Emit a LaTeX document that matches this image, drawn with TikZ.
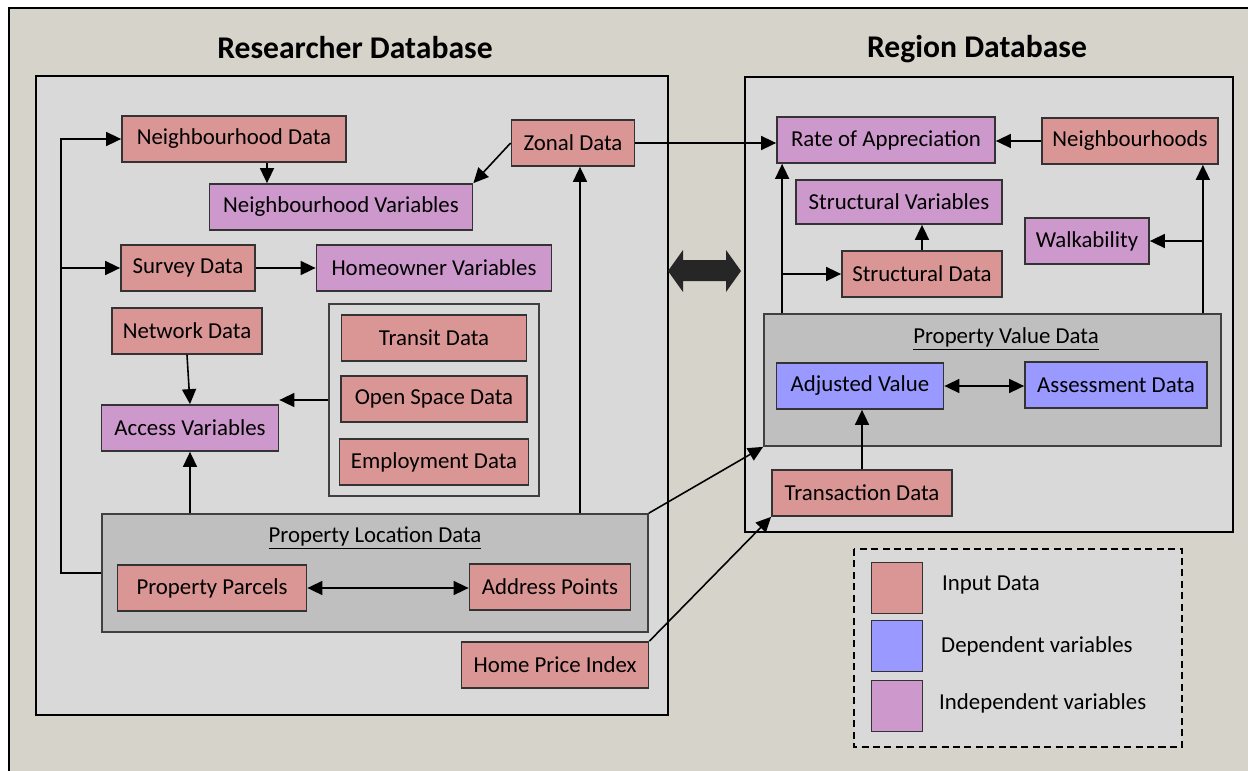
\documentclass[tikz,border=0pt]{standalone}
\usepackage{fontspec}
\setmainfont{Carlito}
\usetikzlibrary{arrows.meta}

\definecolor{inred}{HTML}{DA9694}
\definecolor{depblue}{HTML}{9999FF}
\definecolor{indvio}{HTML}{CD98CC}
\definecolor{grpgray}{HTML}{BFBFBF}
\definecolor{dbgray}{HTML}{D9D9D9}
\definecolor{pagebg}{HTML}{D6D3CB}

\tikzset{
  box/.style={draw=black!80, line width=1pt, minimum height=0.92cm, inner sep=0pt,
    font=\fontsize{13}{15}\selectfont},
  input/.style={box, fill=inred},
  dep/.style={box, fill=depblue},
  indep/.style={box, fill=indvio},
  wd/.style={minimum width=#1*0.02cm},
  ht/.style={minimum height=#1*0.02cm},
  grp/.style={draw=black!75, line width=1pt, fill=grpgray, inner sep=0pt},
  arr/.style={-{Triangle[length=0.3cm,width=0.28cm]}, line width=0.9pt},
  dbl/.style={{Triangle[length=0.3cm,width=0.28cm]}-{Triangle[length=0.3cm,width=0.28cm]}, line width=0.9pt},
  dbtitle/.style={font=\bfseries\fontsize{18}{22}\selectfont},
  grptitle/.style={font=\fontsize{13}{15}\selectfont},
}

\begin{document}
\begin{tikzpicture}[x=0.02cm, y=-0.02cm]
\useasboundingbox (0,0) rectangle (1248,771);

%% Page background and the two databases
\fill[white] (0,0) rectangle (1248,771);
\draw[fill=pagebg, line width=1.1pt] (9,8) rectangle (1260,790);
\draw[fill=dbgray, line width=1pt] (36,76) rectangle (668,715);
\draw[fill=dbgray, line width=1pt] (745,77) rectangle (1233,532);

\node[dbtitle] (restitle) at (355,48) {Researcher Database};
\node[dbtitle] (regtitle) at (977,49) {Region Database};

%% Exchange between the databases
\fill[black!85] (668,271) -- (683,250) -- (683,260) -- (726,260) -- (726,250)
  -- (741,271) -- (726,292) -- (726,281) -- (683,281) -- (683,292) -- cycle;

%% ---------------- Researcher side ----------------
\node[grp, wd=546, ht=118] (locgrp) at (375,573) {};
\node[grptitle] (loctitle) at (375,538) {\underline{Property Location Data}};
\node[input, wd=189] (parcels) at (212,588) {Property Parcels};
\node[input, wd=161] (address) at (550,587) {Address Points};

\node[draw=black!75, line width=1pt, fill=dbgray, wd=210, ht=192] (accgrp) at (434,400) {};
\node[input, wd=185] (transit) at (434,338) {Transit Data};
\node[input, wd=186] (openspace) at (434,399) {Open Space Data};
\node[input, wd=189] (employ) at (434,462) {Employment Data};

\node[input, wd=224] (ndata) at (234,139) {Neighbourhood Data};
\node[indep, wd=263] (nvar) at (341,207) {Neighbourhood Variables};
\node[input, wd=123] (zonal) at (573,143) {Zonal Data};
\node[input, wd=134] (survey) at (188,268) {Survey Data};
\node[indep, wd=235] (homevar) at (434,268) {Homeowner Variables};
\node[input, wd=150] (network) at (187,331) {Network Data};
\node[indep, wd=177] (access) at (190,428) {Access Variables};
\node[input, wd=187] (hpi) at (555,665) {Home Price Index};

%% feeds from the location data
\coordinate (lbus) at (62,268);
\draw[arr] (locgrp.west) -- ++(-40,0) |- (ndata.west);
\draw[arr] (lbus) -- (survey.west);
\draw[arr] (access.south |- locgrp.north) -- (access.south);
\draw[arr] ([xshift=0.14cm]zonal.south |- locgrp.north) -- ([xshift=0.14cm]zonal.south);

\draw[arr] ([xshift=0.66cm]ndata.south) -- ([xshift=0.66cm]ndata.south |- nvar.north);
\draw[arr] (zonal.west) -- (nvar.north east);
\draw[arr] (survey.east) -- (homevar.west);
\draw[arr] (network.south) -- (access.north);
\draw[arr] (accgrp.west) -- (accgrp.west -| access.east);
\draw[dbl] (parcels.east) -- (parcels.east -| address.west);

%% ---------------- Region side ----------------
\node[grp, wd=457, ht=132] (valgrp) at (992.5,380) {};
\node[grptitle] (valtitle) at (1006,339) {\underline{Property Value Data}};
\node[dep, wd=167] (adjusted) at (860,386) {Adjusted Value};
\node[dep, wd=182] (assess) at (1116,385) {Assessment Data};

\node[indep, wd=218] (rate) at (886,140) {Rate of Appreciation};
\node[input, wd=176] (nbhds) at (1130,141) {Neighbourhoods};
\node[indep, wd=206, ht=44] (structvar) at (899,202) {Structural Variables};
\node[indep, wd=124] (walk) at (1087,241) {Walkability};
\node[input, wd=160] (structdata) at (922,274) {Structural Data};
\node[input, wd=180] (trans) at (862,493) {Transaction Data};

\draw[arr] (zonal.east) -- (zonal.east -| rate.west);
\draw[arr] (nbhds.west) -- (nbhds.west -| rate.east);
\draw[arr] ([xshift=0.12cm]rate.south west |- valgrp.north) -- ([xshift=0.12cm]rate.south west);
\draw[arr] ([xshift=0.12cm]rate.south west |- structdata.west) -- (structdata.west);
\draw[arr] (structdata.north) -- (structdata.north |- structvar.south);
\draw[arr] ([xshift=-0.32cm]nbhds.south east |- valgrp.north) -- ([xshift=-0.32cm]nbhds.south east);
\draw[arr] ([xshift=-0.32cm]nbhds.south east |- walk.east) -- (walk.east);
\draw[dbl] (adjusted.east) -- (adjusted.east -| assess.west);
\draw[arr] (trans.north) -- (trans.north |- adjusted.south);

%% links across
\draw[arr] (locgrp.north east) -- (valgrp.south west);
\draw[arr] (hpi.north east) -- (trans.south west);

%% ---------------- Legend ----------------
\draw[dash pattern=on 4pt off 2.5pt, line width=1pt, fill=dbgray] (854,549) rectangle (1182,747);
\node[box, fill=inred, minimum size=1.02cm] (keyin) at (897,588) {};
\node[box, fill=depblue, minimum size=1.02cm] (keydep) at (897,646) {};
\node[box, fill=indvio, minimum size=1.02cm] (keyind) at (897,706) {};
\node[grptitle, anchor=west] (keyintxt) at (936,585) {Input Data};
\node[grptitle, anchor=west] (keydeptxt) at (935,646) {Dependent variables};
\node[grptitle, anchor=west] (keyindtxt) at (933,703) {Independent variables};

\end{tikzpicture}
\end{document}
